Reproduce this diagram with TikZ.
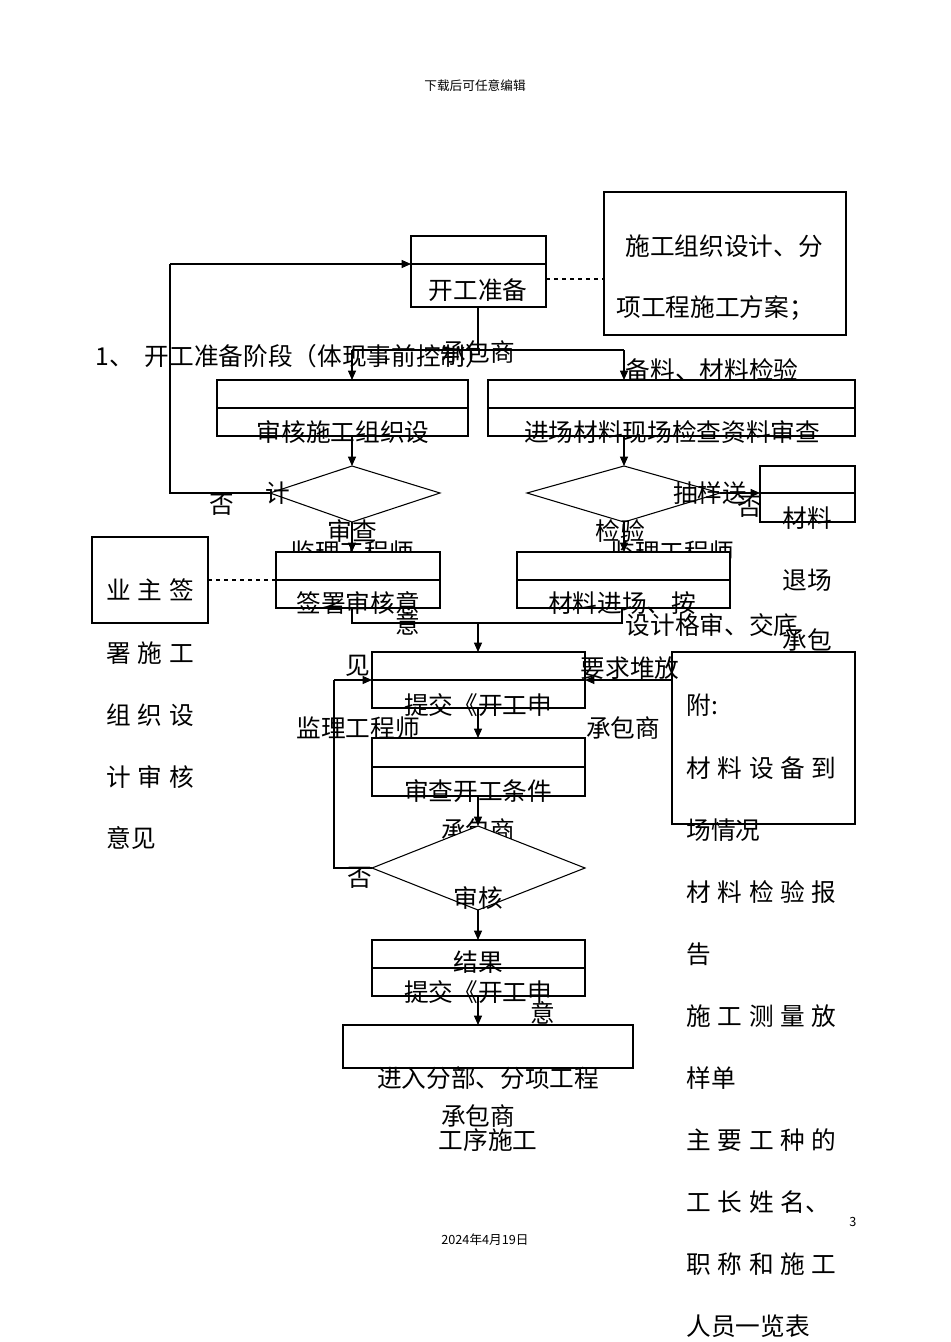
\documentclass[tikz,border=0pt]{standalone}
\usepackage{fontspec}
\setmainfont{Noto Sans CJK SC}
\usetikzlibrary{arrows.meta}
\newcommand{\gp}{\hspace{5pt}}
\begin{document}
\begin{tikzpicture}[x=0.75pt,y=-0.75pt,line width=0.8pt,
  t/.style={font=\fontsize{18.5}{18.5}\selectfont,inner sep=0pt},
  s/.style={font=\fontsize{9.5}{10}\selectfont,inner sep=0pt},
  ar/.style={-{Triangle[length=7pt,width=6pt]}}]
\useasboundingbox (0,0) rectangle (950,1342);
\node[s] (hd) at (475,86) {下载后可任意编辑};
% top box
\draw (411,236) rectangle (546,307); \draw (411,264)--(546,264);
\coordinate (kgL) at (411,264); \coordinate (kgB) at (478,307);
\node[t] (kg) at (478,290) {开工准备};
\draw[dashed] (546,279)--(604,279);
\draw (604,192) rectangle (846,335);
\node[t] (p1) at (724,246) {施工组织设计、分};
\node[t] (p2) at (715,308) {项工程施工方案；};
\node[t,anchor=west] (st) at (95,356) {1、\ \ 开工准备阶段（体现事前控制）};
\node[t] (cb1) at (478,352) {承包商};
\draw (kgB)--(478,350); \draw (352,350)--(624,350);
\draw[ar] (352,350)--(352,380); \draw[ar] (624,350)--(624,380);
\node[t] (bl) at (712,370) {备料、材料检验};
% row boxes
\draw (217,380) rectangle (468,436); \draw (217,408)--(468,408);
\node[t] (a1) at (343,432) {审核施工组织设};
\draw (488,380) rectangle (855,436); \draw (488,408)--(855,408);
\node[t] (a2) at (672,432) {进场材料现场检查资料审查};
\draw[ar] (352,436)--(352,466); \draw[ar] (624,436)--(624,466);
% diamonds
\draw (270,493)--(352,466)--(440,493)--(352,522)--cycle;
\draw (527,493)--(624,466)--(720,493)--(624,522)--cycle;
\draw (270,493)--(170,493)--(170,264); \draw[ar] (170,264)--(kgL);
\node[t] (f1) at (222,505) {否};
\node[t] (j1) at (278,493) {计};
\node[t] (sc) at (352,531) {审查};
\node[t] (jl1) at (352,552) {监理工程师};
\node[t] (cy) at (710,493) {抽样送};
\node[t] (jy) at (620,531) {检验};
\node[t] (jl2) at (672,552) {监理工程师};
\draw[ar] (720,493)--(760,493);
\node[t] (f2) at (750,507) {否};
\draw (760,466) rectangle (855,522); \draw (760,493)--(855,493);
\node[t] (cl) at (807,518) {材料};
\node[t] (tc) at (807,580) {退场};
\node[t] (cb) at (807,640) {承包};
\draw[ar] (352,522)--(352,552); \draw[ar] (624,522)--(624,552);
\fill[white] (276,553) rectangle (440,579); \fill[white] (517,553) rectangle (730,579);
\draw (276,552) rectangle (440,608); \draw (276,580)--(440,580);
\node[t] (qs) at (358,603) {签署审核意};
\node[t] (yi) at (408,624) {意};
\node[t] (jian) at (358,666) {见};
\draw (517,552) rectangle (730,608); \draw (517,580)--(730,580);
\node[t] (cj) at (622,603) {材料进场、按};
\node[t] (sj) at (712,625) {设计格审、交底};
\node[t] (yq) at (630,668) {要求堆放};
\draw[dashed] (208,580)--(276,580);
\draw (92,537) rectangle (208,623);
\node[t,anchor=west] (y1) at (106,590) {业\gp 主\gp 签};
\node[t,anchor=west] (y2) at (106,653) {署\gp 施\gp 工};
\node[t,anchor=west] (y3) at (106,715) {组\gp 织\gp 设};
\node[t,anchor=west] (y4) at (106,777) {计\gp 审\gp 核};
\node[t,anchor=west] (y5) at (106,838) {意见};
% merge
\draw (352,608)--(352,623)--(622,623)--(622,608);
\draw[ar] (478,623)--(478,652);
\draw (372,652) rectangle (585,708); \draw (372,680)--(585,680);
\node[t] (tj) at (478,705) {提交《开工申};
\draw (672,652) rectangle (855,824);
\draw[ar] (672,680)--(585,680);
\node[t,anchor=west] (f0) at (686,705) {附:};
\node[t,anchor=west] (r1) at (686,768) {材\gp 料\gp 设\gp 备\gp 到};
\node[t,anchor=west] (r2) at (686,830) {场情况};
\node[t,anchor=west] (r3) at (686,892) {材\gp 料\gp 检\gp 验\gp 报};
\node[t,anchor=west] (r4) at (686,954) {告};
\node[t,anchor=west] (r5) at (686,1016) {施\gp 工\gp 测\gp 量\gp 放};
\node[t,anchor=west] (r6) at (686,1078) {样单};
\node[t,anchor=west] (r7) at (686,1140) {主\gp 要\gp 工\gp 种\gp 的};
\node[t,anchor=west] (r8) at (686,1202) {工\gp 长\gp 姓\gp 名、};
\node[t,anchor=west] (r9) at (686,1264) {职\gp 称\gp 和\gp 施\gp 工};
\node[t,anchor=west] (r10) at (686,1326) {人员一览表};
\node[t] (jl3) at (358,728) {监理工程师};
\node[t] (cb3) at (623,728) {承包商};
\draw[ar] (478,708)--(478,738);
\draw (372,738) rectangle (585,796); \draw (372,767)--(585,767);
\node[t] (sk) at (478,791) {审查开工条件};
\draw[ar] (478,796)--(478,826);
\node[t] (cb4) at (478,830) {承包商};
\fill[white] (372,868)--(478,826)--(585,868)--(478,910)--cycle;
\draw (372,868)--(478,826)--(585,868)--(478,910)--cycle;
\draw (372,868)--(334,868)--(334,680); \draw[ar] (334,680)--(372,680);
\node[t] (f3) at (360,878) {否};
\node[t] (sh) at (478,898) {审核};
\draw[ar] (478,910)--(478,940);
\draw (372,940) rectangle (585,996); \draw (372,968)--(585,968);
\node[t] (jg) at (478,962) {结果};
\node[t] (tj2) at (478,992) {提交《开工申};
\node[t] (yi2) at (543,1013) {意};
\draw (533,940)--(553,940);
\draw[ar] (478,996)--(478,1025);
\draw (343,1025) rectangle (633,1068);
\node[t] (jr) at (488,1078) {进入分部、分项工程};
\node[t] (cb5) at (478,1116) {承包商};
\node[t] (gx) at (488,1140) {工序施工};
\node[s] (dt) at (485,1240) {2024年4月19日};
\node[s] (pg) at (853,1222) {3};
\end{tikzpicture}
\end{document}
